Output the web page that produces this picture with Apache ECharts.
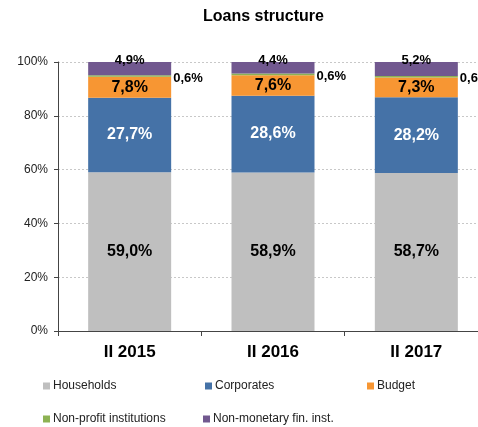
<!DOCTYPE html>
<html>
<head>
<meta charset="utf-8">
<script src="https://cdn.jsdelivr.net/npm/echarts@6/dist/echarts.min.js"></script>
<style>
  html, body { margin: 0; padding: 0; background: #fff; }
  #chart { width: 478px; height: 427px; }
</style>
</head>
<body>
<div id="chart"></div>
<script>
// 数据
const categories = ['II 2015', 'II 2016', 'II 2017']
const households = [59.0, 58.9, 58.7]
const corporates = [27.7, 28.6, 28.2]
const budget = [7.8, 7.6, 7.3]
const nonProfit = [0.6, 0.6, 0.6]
const nonMonetary = [4.9, 4.4, 5.2]
const yTicks = [0, 20, 40, 60, 80, 100]

const fontFamily = 'Liberation Sans, Arial, sans-serif'
const fmt = (p) => p.value.toFixed(1).replace('.', ',') + '%'

function segment(name, data, color, label) {
  return {
    name: name,
    type: 'bar',
    stack: 'total',
    barWidth: 83,
    data: data,
    itemStyle: { color: color },
    label: Object.assign({ show: true, formatter: fmt, fontFamily: fontFamily, fontWeight: 'bold' }, label)
  }
}

function legendItem(name, left, top) {
  return {
    data: [name],
    left: left,
    top: top,
    icon: 'rect',
    itemWidth: 7,
    itemHeight: 7,
    itemGap: 0,
    textStyle: { fontSize: 12, color: '#222', fontFamily: fontFamily, padding: [0, 0, 0, -2] }
  }
}

const myChart = echarts.init(document.getElementById('chart'))
myChart.setOption({
  animation: false,
  title: {
    text: 'Loans structure',
    left: 198,
    top: 4,
    textStyle: { fontSize: 16, fontWeight: 'bold', color: '#000', fontFamily: fontFamily }
  },
  legend: [
    legendItem('Households', 38, 375),
    legendItem('Corporates', 200, 375),
    legendItem('Budget', 362, 375),
    legendItem('Non-profit institutions', 38, 408),
    legendItem('Non-monetary fin. inst.', 198, 408)
  ],
  grid: {
    top: 62,
    left: 58,
    width: 430,
    bottom: 96,
    containLabel: false,
    outerBoundsMode: 'none'
  },
  xAxis: {
    type: 'category',
    data: categories,
    axisLine: { lineStyle: { color: '#444' } },
    axisTick: { show: true, length: 5, lineStyle: { color: '#444' } },
    axisLabel: { fontSize: 17, fontWeight: 'bold', color: '#000', margin: 13, fontFamily: fontFamily }
  },
  yAxis: {
    type: 'value',
    min: yTicks[0],
    max: yTicks[yTicks.length - 1],
    interval: 20,
    axisLine: { show: true, lineStyle: { color: '#444' } },
    axisTick: { show: true, length: 4, lineStyle: { color: '#444' } },
    axisLabel: { formatter: '{value}%', fontSize: 12, color: '#222', margin: 10, fontFamily: fontFamily },
    splitLine: { lineStyle: { color: '#c8c8c8', type: [2, 2] } }
  },
  series: [
    segment('Households', households, '#BFBFBF', { fontSize: 16, color: '#000' }),
    segment('Corporates', corporates, '#4572A7', { fontSize: 16, color: '#fff' }),
    segment('Budget', budget, '#F79633', { fontSize: 16, color: '#000' }),
    segment('Non-profit institutions', nonProfit, '#8DB253', { position: 'right', distance: 2, offset: [0, 2], fontSize: 13, color: '#000' }),
    segment('Non-monetary fin. inst.', nonMonetary, '#71588F', { position: 'top', distance: -5, fontSize: 13, color: '#000' })
  ]
})
</script>
</body>
</html>
